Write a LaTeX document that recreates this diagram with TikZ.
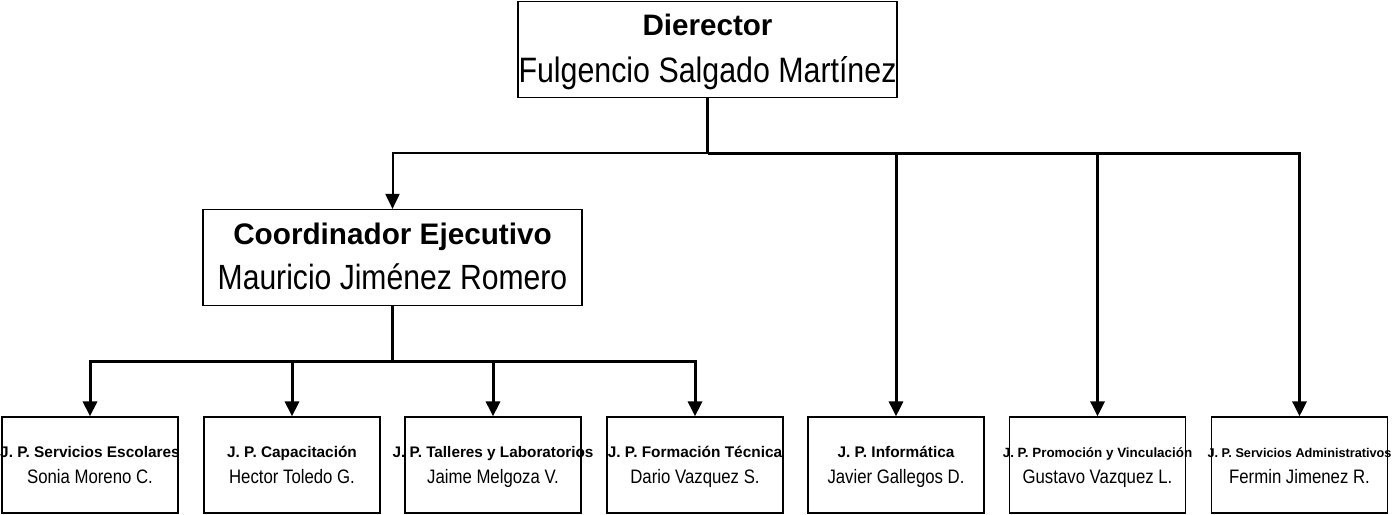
\documentclass[tikz,border=0pt]{standalone}
\usepackage{fontspec}
\setmainfont{Liberation Sans}
\newfontfamily\nombre{Liberation Sans}[FakeStretch=0.86]
\usetikzlibrary{arrows.meta}

% two lines of a box: bold title, then the name
\newcommand{\dosl}[4]{\makebox[0pt]{\fontsize{#1}{#1}\selectfont\bfseries #2}\strut\\\makebox[0pt]{\nombre\fontsize{#3}{#3}\selectfont #4}\strut}

\begin{document}
\begin{tikzpicture}[x=1pt,y=-1pt,
  caja/.style={draw, line width=1.2pt, minimum width=379pt, minimum height=96pt, inner sep=0pt, align=center},
  jpcaja/.style={draw, line width=1.2pt, minimum width=176pt, minimum height=96pt, inner sep=0pt, align=center, font=\fontsize{17}{26}\selectfont},
  linea/.style={line width=3pt},
  flecha/.style={line width=3pt, -{Triangle[width=14pt,length=15pt]}}
]
\useasboundingbox (0,0) rectangle (1397,514);

% 1. Director and coordinator
\node[caja, font=\fontsize{33}{47}\selectfont] (dir) at (707.5,49.5)
  {\dosl{29.6}{Dierector}{35.3}{Fulgencio Salgado Martínez}};
\node[caja, font=\fontsize{33}{45}\selectfont] (coord) at (392.5,257.5)
  {\dosl{29.7}{Coordinador Ejecutivo}{35}{Mauricio Jiménez Romero}};

% 2. The seven heads of department (bottom row)
\node[jpcaja] (jse)  at (90,465)     {\dosl{15.4}{J. P. Servicios Escolares}{19.5}{Sonia Moreno C.}};
\node[jpcaja] (jcap) at (292,465)    {\dosl{15.4}{J. P. Capacitación}{19.5}{Hector Toledo G.}};
\node[jpcaja] (jtal) at (493,465)    {\dosl{15.3}{J. P. Talleres y Laboratorios}{19.5}{Jaime Melgoza V.}};
\node[jpcaja] (jfor) at (695,465)    {\dosl{15.4}{J. P. Formación Técnica}{19.5}{Dario Vazquez S.}};
\node[jpcaja] (jinf) at (896,465)    {\dosl{15.4}{J. P. Informática}{19.5}{Javier Gallegos D.}};
\node[jpcaja] (jpro) at (1097.5,465) {\dosl{13.4}{J. P. Promoción y Vinculación}{19.5}{Gustavo Vazquez L.}};
\node[jpcaja] (jadm) at (1299.5,465) {\dosl{12.7}{J. P. Servicios Administrativos}{19.5}{Fermin Jimenez R.}};

% 3. Connectors from the director
\coordinate (dj) at (707.5,153);
\draw[linea] (dir.south) -- (dj);
\draw[flecha, line width=2pt] (dj) -| (coord.north);
\foreach \n in {jinf,jpro,jadm}
  \draw[flecha] (dj) -| (\n.north);

% 4. Connectors from the coordinator
\coordinate (cj) at (392.5,361);
\draw[linea] (coord.south) -- (cj);
\foreach \n in {jse,jcap,jtal,jfor}
  \draw[flecha] (cj) -| (\n.north);

\end{tikzpicture}
\end{document}
